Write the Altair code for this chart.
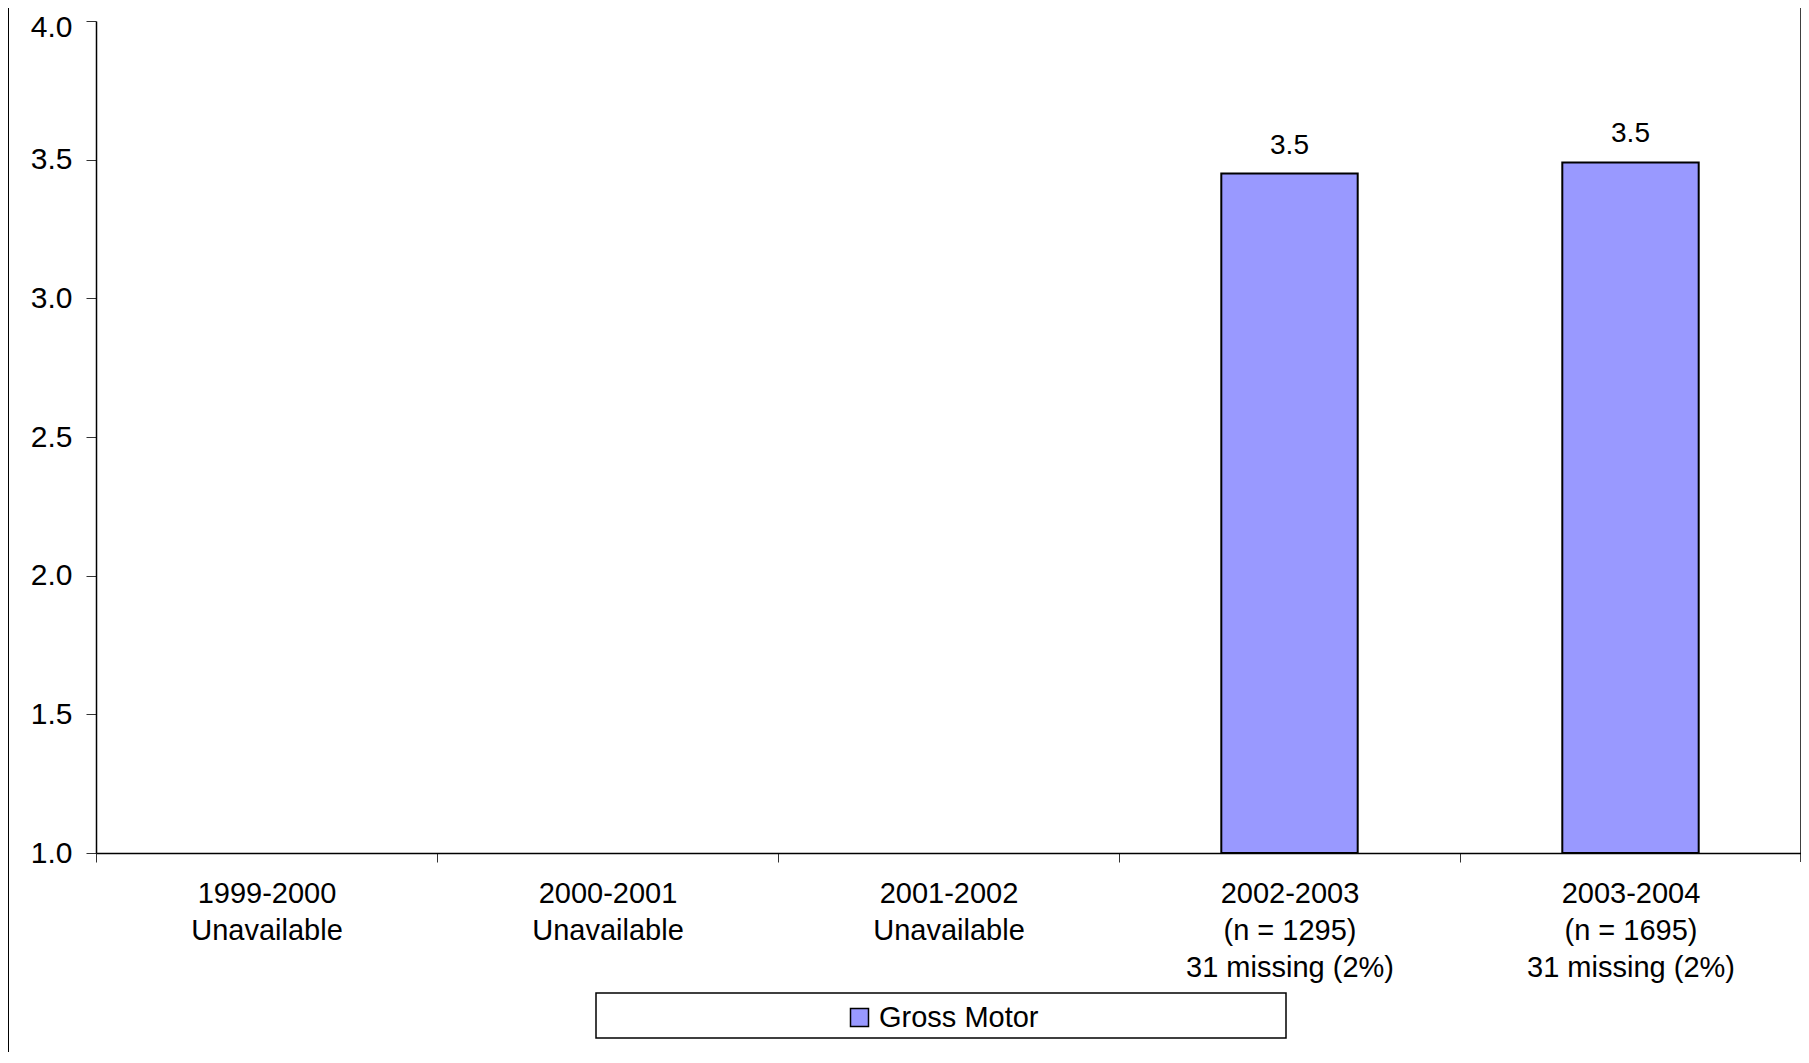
import altair as alt
import pandas as pd

categories = [
    "1999-2000|Unavailable",
    "2000-2001|Unavailable",
    "2001-2002|Unavailable",
    "2002-2003|(n = 1295)|31 missing (2%)",
    "2003-2004|(n = 1695)|31 missing (2%)",
]
values = [None, None, None, 3.45, 3.49]
series_name = "Gross Motor"
y_ticks = [1.0, 1.5, 2.0, 2.5, 3.0, 3.5, 4.0]
bar_color = "#9999FF"

df = pd.DataFrame({"period": categories, "value": values, "series": [series_name] * len(categories)})

W, H = 1705, 832
FONT = "Liberation Sans"

x_enc = alt.X(
    "period:N",
    sort=categories,
    scale=alt.Scale(domain=categories, paddingInner=0, paddingOuter=0),
    axis=alt.Axis(
        title=None,
        labelAngle=0,
        labelExpr="split(datum.label, '|')",
        labelFontSize=29,
        labelLineHeight=37,
        labelPadding=17,
        labelColor="black",
        labelBaseline="top",
        tickBand="extent",
        tickSize=9,
        tickColor="#333333",
        domainColor="black",
        domainWidth=1.5,
        labelLimit=400,
    ),
)

y_enc = alt.Y(
    "value:Q",
    scale=alt.Scale(domain=[1.0, 4.0], zero=False, nice=False),
    axis=alt.Axis(
        title=None,
        values=y_ticks,
        format=".1f",
        labelFontSize=30,
        labelPadding=14,
        labelColor="black",
        labelOffset={"condition": {"test": "datum.value >= 4", "value": 6}, "value": 0},
        tickSize=10,
        tickColor="#333333",
        domainColor="black",
        domainWidth=1.5,
        grid=False,
    ),
)

base = alt.Chart(df)

bars = base.mark_bar(
    width=alt.RelativeBandSize(0.4), stroke="black", strokeWidth=2
).encode(
    x=x_enc,
    y=y_enc,
    y2=alt.datum(1.0),
    color=alt.Color(
        "series:N",
        scale=alt.Scale(domain=[series_name], range=[bar_color]),
        legend=alt.Legend(
            title=None,
            orient="none",
            legendX=749,
            legendY=982,
            symbolType="square",
            symbolSize=324,
            symbolStrokeColor="black",
            symbolStrokeWidth=1.5,
            labelFontSize=29,
            labelColor="black",
            labelOffset=5,
            padding=0,
        ),
    ),
)

labels = base.mark_text(
    dy=-20, baseline="alphabetic", fontSize=28, color="black", font=FONT
).encode(
    x=alt.X("period:N", sort=categories),
    y=alt.Y("value:Q"),
    text=alt.Text("value:Q", format=".1f"),
)

one = alt.Data(values=[{"k": 1}])

legend_box = alt.Chart(one).mark_rect(
    fill="white", stroke="black", strokeWidth=1.5
).encode(
    x=alt.value(500), x2=alt.value(1190), y=alt.value(972), y2=alt.value(1017)
)

left_border = alt.Chart(one).mark_rule(color="black", strokeWidth=2).encode(
    x=alt.value(-88), y=alt.value(-13), y2=alt.value(1031)
)

right_border = alt.Chart(one).mark_rule(color="black", strokeWidth=1.5).encode(
    x=alt.value(W), y=alt.value(-13), y2=alt.value(H + 9)
)

chart = (
    alt.layer(legend_box, left_border, right_border, bars, labels)
    .properties(
        width=W,
        height=H,
        autosize=alt.AutoSizeParams(type="none"),
        padding={"left": 88, "top": 13, "right": 0, "bottom": 199},
    )
    .configure(font=FONT)
    .configure_view(stroke=None)
)

chart.save("out.html", embed_options={"renderer": "svg", "actions": False})
